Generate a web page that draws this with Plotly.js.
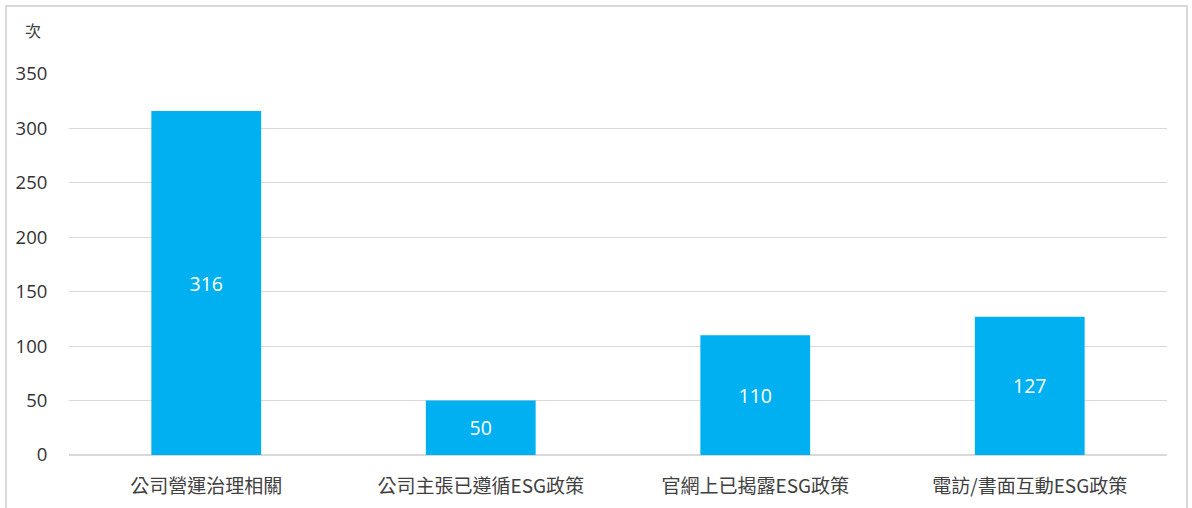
<!DOCTYPE html>
<html>
<head>
<meta charset="utf-8">
<script src="https://cdn.plot.ly/plotly-3.0.1.min.js"></script>
<style>
html,body{margin:0;padding:0;background:#fff;}
#wrap{position:relative;width:1192px;height:508px;overflow:hidden;}
#frame{position:absolute;left:5px;top:5px;width:1183px;height:520px;border:2px solid #d9d9d9;box-sizing:border-box;pointer-events:none;}
#chart{position:absolute;left:0;top:0;width:1192px;height:508px;}
</style>
</head>
<body>
<div id="wrap">
<div id="chart"></div>
<div id="frame"></div>
</div>
<script>
const categories = ["公司營運治理相關", "公司主張已遵循ESG政策", "官網上已揭露ESG政策", "電訪/書面互動ESG政策"];
const values = [316, 50, 110, 127];
const yTickValues = [0, 50, 100, 150, 200, 250, 300, 350];
const yUnit = "次";

const fontFam = "'Segoe UI', 'Open Sans', 'Noto Sans CJK TC', sans-serif";

Plotly.newPlot('chart', [{
  type: 'bar',
  x: categories,
  y: values,
  text: values.map(String),
  textposition: 'inside',
  insidetextanchor: 'middle',
  textangle: 0,
  textfont: {color: '#ffffff', size: 19.5, family: fontFam},
  marker: {color: '#00b0f0', line: {width: 0}},
  hoverinfo: 'none'
}], {
  width: 1192, height: 508,
  margin: {l: 69, r: 25, t: 74, b: 53},
  paper_bgcolor: '#ffffff',
  plot_bgcolor: '#ffffff',
  bargap: 0.6,
  showlegend: false,
  font: {family: fontFam, color: '#404040', size: 18},
  xaxis: {
    type: 'category',
    showgrid: false,
    zeroline: false,
    showline: false,
    ticks: 'outside', ticklen: 14, tickcolor: 'rgba(0,0,0,0)',
    tickfont: {family: "'Noto Sans CJK TC', 'Segoe UI', sans-serif", size: 19, color: '#404040'}
  },
  yaxis: {
    range: [0, 350],
    tickvals: yTickValues,
    ticktext: yTickValues.map(String),
    showgrid: true, gridcolor: '#d9d9d9', gridwidth: 1,
    zeroline: true, zerolinecolor: '#d9d9d9', zerolinewidth: 1.5,
    showline: false,
    ticks: 'outside', ticklen: 17, tickcolor: 'rgba(0,0,0,0)',
    tickfont: {family: fontFam, size: 18.5, color: '#333333'}
  },
  annotations: [{
    text: yUnit, xref: 'paper', yref: 'paper',
    x: -0.033, y: 1, xanchor: 'center', yanchor: 'bottom',
    yshift: 30, showarrow: false,
    font: {family: "'Noto Sans CJK TC', sans-serif", size: 16, color: '#404040'}
  }]
}, {displayModeBar: false, staticPlot: true});
</script>
</body>
</html>
